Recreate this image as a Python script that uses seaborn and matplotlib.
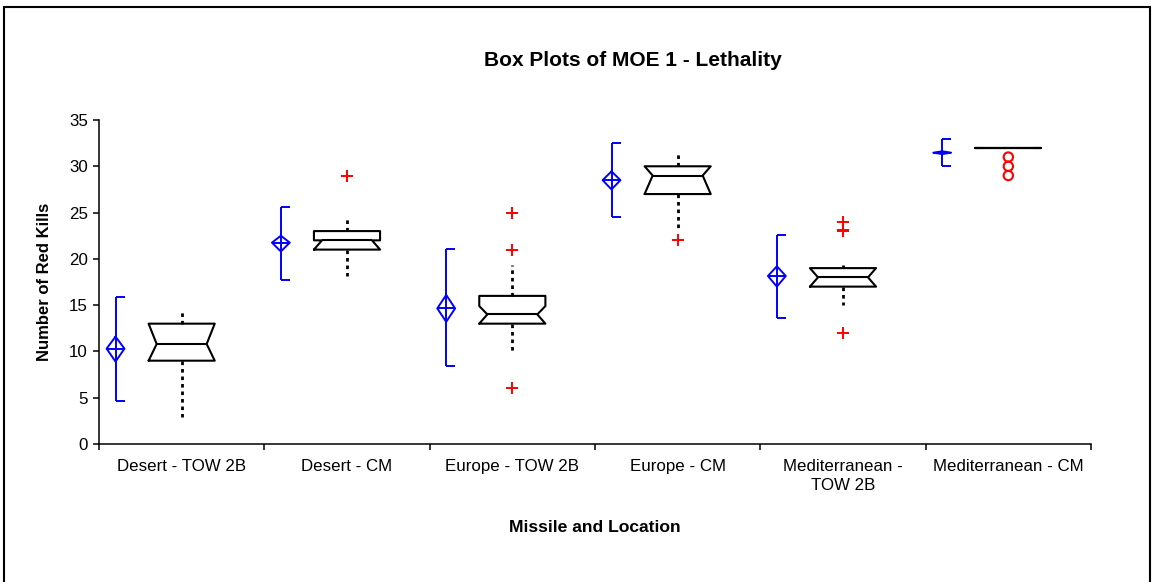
import numpy as np
import pandas as pd
import matplotlib
matplotlib.use("Agg")
import matplotlib.pyplot as plt
from matplotlib.patches import Rectangle
import seaborn as sns

# ---------------- data ----------------
categories = ["Desert - TOW 2B", "Desert - CM", "Europe - TOW 2B", "Europe - CM",
              "Mediterranean -\nTOW 2B", "Mediterranean - CM"]

# mean with confidence interval (blue diamonds) and range brackets
mean_val = [10.3, 21.75, 14.65, 28.5, 18.15, 31.47]
mean_ci_lo = [8.9, 20.8, 13.2, 27.5, 17.0, 31.32]
mean_ci_hi = [11.6, 22.5, 16.1, 29.45, 19.2, 31.62]
bracket_lo = [4.6, 17.75, 8.4, 24.5, 13.6, 30.0]
bracket_hi = [15.85, 25.6, 21.1, 32.5, 22.6, 32.9]

# notched box plot statistics
q1 = [9, 21, 13, 27, 17, 32]
median = [10.8, 22, 14, 29, 18, 32]
q3 = [13, 23, 16, 30, 19, 32]
whisker_lo = [2.9, 18.1, 10.0, 23.0, 15.0, 32]
whisker_hi = [14.4, 24.3, 19.3, 31.3, 19.3, 32]
notch_lo = [9, 21, 13, 27, 17, 32]
notch_hi = [13, 22, 14.9, 30, 19, 32]

# outliers
plus_cat = [1, 2, 2, 2, 3, 4, 4, 4, 4]
plus_val = [29, 25, 21, 6, 22, 24, 23.15, 23, 12]
circle_cat = [5, 5, 5]
circle_val = [31, 30, 29]

# ---------------- style ----------------
sns.set_style("white")
plt.rcParams['font.family'] = ['Liberation Sans', 'DejaVu Sans']
plt.rcParams.update({'text.color': 'black', 'axes.labelcolor': 'black',
                     'xtick.color': 'black', 'ytick.color': 'black'})

W, H = 1153, 582
fig = plt.figure(figsize=(W / 100, H / 100), dpi=100)
ax = fig.add_axes([99 / W, 1 - 444 / H, 992 / W, 324 / H])

pos = np.arange(len(categories))
box_w = 0.4

stats = [dict(med=m, q1=a, q3=b, whislo=wl, whishi=wh, cilo=cl, cihi=ch, fliers=[])
         for m, a, b, wl, wh, cl, ch in zip(median, q1, q3, whisker_lo, whisker_hi,
                                             notch_lo, notch_hi)]
bp = ax.bxp(stats, positions=pos, widths=box_w, shownotches=True, showcaps=False,
            showfliers=False, manage_ticks=False,
            boxprops=dict(color='black', lw=1.5),
            medianprops=dict(color='black', lw=1.5),
            whiskerprops=dict(color='black', lw=2.0, linestyle=(0, (1.3, 1.4))))

# narrower notch indent
notch_half = box_w * 0.378
for i, line in enumerate(bp['boxes']):
    xd = np.array(line.get_xdata(), dtype=float)
    p = pos[i]
    inner = np.abs(xd - p) < box_w * 0.3
    xd[inner] = p + np.sign(xd[inner] - p) * notch_half
    line.set_xdata(xd)
for i, line in enumerate(bp['medians']):
    p = pos[i]
    line.set_xdata([p - notch_half, p + notch_half])

# blue mean diamonds and range brackets
bx = pos - 0.40
cap = 0.055
dw = 0.054
blue = '#0000FF'
ax.vlines(bx, bracket_lo, bracket_hi, color=blue, lw=1.4)
ax.hlines(bracket_lo, bx, bx + cap, color=blue, lw=1.4)
ax.hlines(bracket_hi, bx, bx + cap, color=blue, lw=1.4)
for x, m, lo, hi in zip(bx, mean_val, mean_ci_lo, mean_ci_hi):
    ax.plot([x, x + dw, x, x - dw, x], [hi, m, lo, m, hi], color=blue, lw=1.4)
ax.hlines(mean_val, bx - dw, bx + dw, color=blue, lw=1.4)

# outliers
sns.scatterplot(x=plus_cat, y=plus_val, marker='+', color='red', s=70,
                linewidth=1.4, ax=ax, zorder=5)
sns.scatterplot(x=circle_cat, y=circle_val, marker='o', s=45, facecolor='none',
                edgecolor='red', linewidth=1.5, ax=ax, zorder=5)

# axes
ax.set_xlim(-0.5, 5.5)
ax.set_ylim(0, 35)
ax.set_xticks(pos)
ax.set_xticklabels(categories, linespacing=1.3)
ax.set_xticks(np.arange(-0.5, 6, 1), minor=True)
ax.set_yticks(range(0, 36, 5))
ax.tick_params(axis='x', which='major', length=0, pad=11, labelsize=12.2, bottom=True)
ax.tick_params(axis='x', which='minor', length=4, width=1.1, direction='out',
               color='black', bottom=True)
ax.tick_params(axis='y', length=4, width=1.1, pad=4, labelsize=12.2, direction='out',
               left=True, color='black')
for s in ['top', 'right']:
    ax.spines[s].set_visible(False)
for s in ['left', 'bottom']:
    ax.spines[s].set_color('black')
    ax.spines[s].set_linewidth(1.1)

ax.set_xlabel("Missile and Location", fontsize=12.6, fontweight='bold')
ax.xaxis.set_label_coords(0.5, (444 - 527) / 324)
ax.xaxis.label.set_va('center')
ax.set_ylabel("Number of Red Kills", fontsize=12, fontweight='bold')
ax.yaxis.set_label_coords((45 - 99) / 992, 0.5)
ax.yaxis.label.set_va('center')

fig.text(633 / W, 1 - 60 / H, "Box Plots of MOE 1 - Lethality", ha='center', va='center',
         fontsize=15, fontweight='bold')

fig.patches.append(Rectangle((4 / W, -0.1), (1150 - 4) / W, 1 - 7 / H + 0.1,
                             transform=fig.transFigure, fill=False, lw=1.5, ec='black'))

fig.savefig("out.png", dpi=100)
